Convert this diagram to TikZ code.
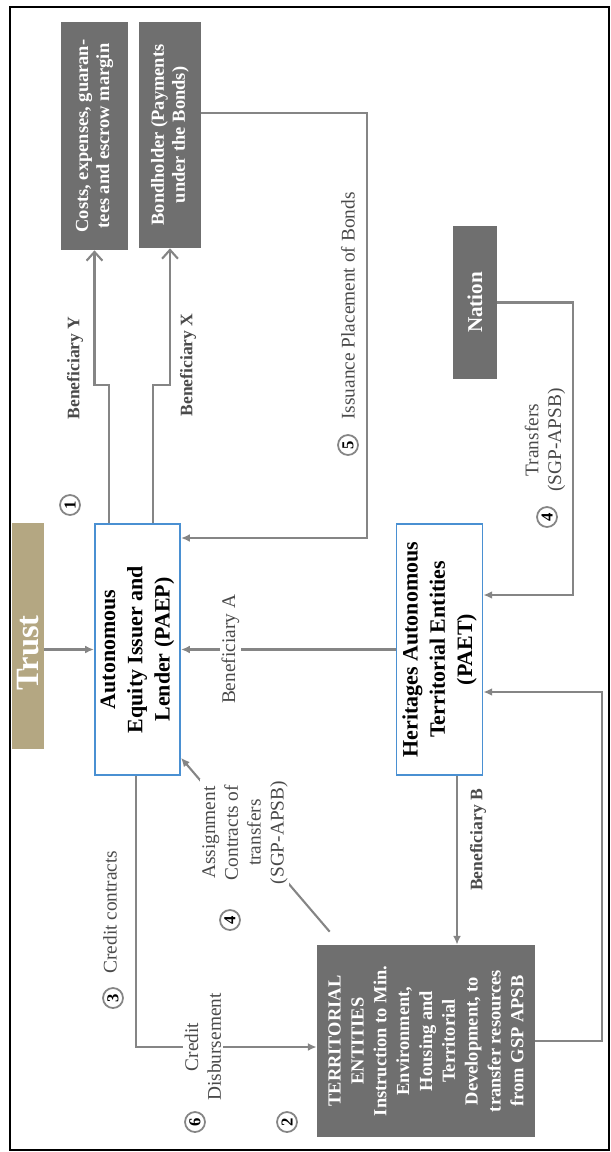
\documentclass[tikz,border=0pt]{standalone}
\usepackage{fontspec}
\setmainfont{Liberation Serif}
\usetikzlibrary{arrows.meta}
\definecolor{boxgray}{HTML}{6F6F6F}
\definecolor{trusttan}{HTML}{B4A782}
\definecolor{edgeblue}{HTML}{4A90D2}
\definecolor{linegray}{HTML}{858585}
\definecolor{labelgray}{HTML}{4A4A4A}

\begin{document}
\begin{tikzpicture}[x=0.02cm,y=-0.02cm]
  \tikzset{dark/.style={rotate=90,fill=boxgray,text=white,font=\bfseries\fontsize{10.5}{12}\selectfont,align=center,inner sep=2pt},
    entity/.style={rotate=90,draw=edgeblue,line width=1pt,fill=white,font=\bfseries\fontsize{12.5}{15.5}\selectfont,align=center,minimum width=5.02cm,minimum height=1.7cm},
    flow/.style={draw=linegray,line width=1.2pt,arrows={-Latex[length=5pt,width=4.5pt]}},
    lbl/.style={rotate=90,text=labelgray,font=\fontsize{11}{13}\selectfont,align=center,inner sep=1pt},
    blbl/.style={lbl,font=\bfseries\fontsize{10}{12}\selectfont},
    stepnum/.style={circle,draw=linegray,line width=1pt,minimum size=0.4cm,inner sep=0pt,rotate=90,font=\bfseries\fontsize{9.5}{9.5}\selectfont}};
  \useasboundingbox (0,0) rectangle (610,1152);
  \draw[line width=1.3pt] (10,7) rectangle (609,1150);

  \node[dark,minimum width=4.56cm,minimum height=1.34cm] (C) at (94.5,136) {Costs, expenses, guaran-\\tees and escrow margin};
  \node[dark,minimum width=4.52cm,minimum height=1.24cm] (B) at (170,135) {Bondholder (Payments\\under the Bonds)};
  \node[dark,font=\bfseries\fontsize{12}{14}\selectfont,minimum width=3.06cm,minimum height=0.88cm] (N) at (475,302.5) {Nation};
  \node[rotate=90,fill=trusttan,text=white,font=\bfseries\fontsize{18.5}{20}\selectfont,minimum width=4.52cm,minimum height=0.64cm,inner sep=0pt] (T) at (28,636) {Trust\hspace*{0.68cm}};
  \node[entity] (PAEP) at (137.5,649.5) {Autonomous\\Equity Issuer and\\Lender (PAEP)};
  \node[entity] (PAET) at (439.5,649.5) {Heritages Autonomous\\Territorial Entities\\(PAET)};
  \node[dark,font=\bfseries\fontsize{10.5}{13}\selectfont,minimum width=3.84cm,minimum height=4.36cm] (TE) at (426,1041) {TERRITORIAL\\ENTITIES\\Instruction to Min.\\Environment,\\Housing and\\Territorial\\Development, to\\transfer resources\\from GSP APSB};

  \coordinate (jy) at (109,385);
  \coordinate (jx) at (153,385);
  \coordinate (bk) at (367,113);
  \coordinate (bk2) at (367,538);
  \coordinate (nk) at (573,595);
  \coordinate (tk) at (602,692);
  \coordinate (ck) at (136,1047);

  \draw[flow] (T.south |- PAEP) -- (PAEP.north);
  \draw[flow,arrows={-Straight Barb[length=5pt,width=9pt]}] (PAEP.east -| jy) -- (jy) -| (C.west);
  \draw[flow,arrows={-Straight Barb[length=5pt,width=9pt]}] (PAEP.east -| jx) -- (jx) -| (B.west);
  \draw[flow] (B.south |- bk) -- (bk) -- (bk2) -- (PAEP.south |- bk2);
  \draw[flow] (N.south) -| (nk) -- (PAET.south |- nk);
  \draw[flow] (PAET.north) -- node[lbl,fill=white,pos=0.77]{Beneficiary A} (PAEP.south);
  \draw[flow] ([xshift=0.35cm]PAET.west) -- ([xshift=0.35cm]PAET.west |- TE.east);
  \draw[flow] (TE.south) -| (tk) -- (PAET.south |- tk);
  \draw[flow] (PAEP.west -| ck) -- (ck) -- node[lbl,fill=white,pos=0.37]{Credit\\Disbursement} (TE.north |- ck);
  \draw[flow] ([xshift=0.26cm,yshift=0.26cm]TE.north east) -- node[lbl,fill=white,pos=0.57]{Assignment\\Contracts of\\transfers\\(SGP-APSB)} ([yshift=0.36cm]PAEP.south west);

  \node[blbl] (LY) at (75,368) {Beneficiary Y};
  \node[blbl] (LX) at (188,365) {Beneficiary X};
  \node[lbl] (LI) at (348,306) {Issuance Placement of Bonds};
  \node[lbl] (LT) at (545,440) {Transfers\\(SGP-APSB)};
  \node[blbl] (LB) at (478,840) {Beneficiary B};
  \node[lbl] (LC) at (110,912) {Credit contracts};

  \node[stepnum] (n1) at (70,505) {1};
  \node[stepnum] (n5) at (348,445) {5};
  \node[stepnum] (n4) at (547,517) {4};
  \node[stepnum] (n3) at (113,998) {3};
  \node[stepnum] (m4) at (230,920) {4};
  \node[stepnum] (n6) at (195,1122) {6};
  \node[stepnum] (n2) at (287,1122) {2};
\end{tikzpicture}
\end{document}
